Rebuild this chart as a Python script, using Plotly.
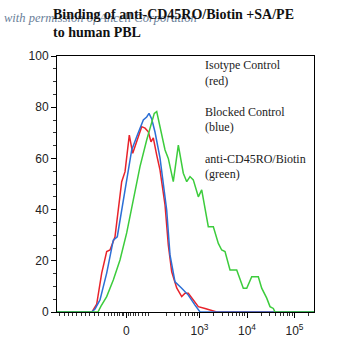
import numpy as np
import plotly.graph_objects as go

# x values in display (logicle-like decade) units: 0 -> 1.46, 10^3 -> 3, 10^4 -> 4, 10^5 -> 5
red_x = [0, 0.737, 0.836, 0.941, 1.046, 1.116, 1.221, 1.284, 1.362, 1.432, 1.522, 1.594, 1.712,
         1.783, 1.853, 1.922, 1.979, 2.027, 2.099, 2.168, 2.274, 2.343, 2.415, 2.52, 2.625, 2.695,
         2.764, 2.836, 2.975, 3.116, 3.326, 3.362, 5.41]
red_y = [0, 0, 3.1, 15.2, 23.6, 24.2, 29.4, 39.8, 50.9, 54.8, 69.1, 62.0, 68.0,
         72.4, 71.8, 70.4, 66.5, 68.0, 61.3, 55.5, 41.8, 26.2, 15.7, 9.4, 6.0, 7.3,
         7.3, 5.5, 2.1, 1.4, 0.1, 0, 0]

blue_x = [0, 0.731, 0.8, 0.905, 1.046, 1.185, 1.269, 1.362, 1.467, 1.573, 1.678, 1.747, 1.817,
          1.888, 1.937, 1.994, 2.063, 2.168, 2.309, 2.379, 2.484, 2.625, 2.764, 2.905, 3.011, 5.41]
blue_y = [0, 0, 1.2, 4.7, 15.2, 28.1, 29.4, 39.8, 51.6, 63.3, 68.5, 71.8, 75.0,
          76.2, 77.6, 75.4, 70.3, 60.2, 39.8, 22.3, 11.8, 9.3, 6.6, 2.7, 0, 0]

green_x = [0, 0.863, 0.926, 1.046, 1.185, 1.326, 1.467, 1.606, 1.747, 1.888, 1.994, 2.048, 2.099,
           2.168, 2.274, 2.343, 2.448, 2.554, 2.659, 2.731, 2.8, 2.869, 2.975, 3.046, 3.116,
           3.185, 3.291, 3.396, 3.467, 3.537, 3.642, 3.783, 3.922, 3.994, 4.099, 4.238, 4.309,
           4.415, 4.484, 4.554, 4.589, 5.41]
green_y = [0, 0, 2.3, 6.0, 12.5, 20.3, 30.9, 43.75, 56.8, 67.2, 73.8, 77.6, 78.3,
           72.7, 63.3, 60.0, 50.9, 65.2, 54.2, 50.9, 52.9, 51.6, 45.0, 47.7, 41.1,
           33.3, 33.3, 26.8, 24.2, 23.6, 16.4, 16.4, 9.3, 9.3, 13.8, 13.8, 9.3,
           5.4, 2.1, 1.4, 0, 0]

x_tickvals = [1.46, 3, 4, 5]
x_ticktext = ["0", "10<sup>3</sup>", "10<sup>4</sup>", "10<sup>5</sup>"]
y_tickvals = [0, 20, 40, 60, 80, 100]

legend_lines = ["Isotype Control", "(red)", "", "Blocked Control", "(blue)", "",
                "anti-CD45RO/Biotin", "(green)"]

# minor tick positions (styling)
minor = []
minor += list(np.arange(0.06, 0.95, 0.09))
minor += [1.0, 1.08, 1.15, 1.21, 1.27, 1.32, 1.37, 1.41, 1.51, 1.55, 1.6, 1.66, 1.72, 1.79, 1.86, 1.93]
for base in [2.0, 3.0, 4.0, 5.0]:
    for m in range(2, 10):
        v = base + np.log10(m)
        if v < 5.4:
            minor.append(v)

fig = go.Figure()
fig.add_trace(go.Scatter(x=red_x, y=red_y, mode="lines", line=dict(color="#e8232b", width=1.5)))
fig.add_trace(go.Scatter(x=blue_x, y=blue_y, mode="lines", line=dict(color="#2c6fd6", width=1.5)))
fig.add_trace(go.Scatter(x=green_x, y=green_y, mode="lines", line=dict(color="#3ccc3c", width=1.5)))

fig.update_layout(
    width=338, height=358,
    margin=dict(l=57, r=24, t=56, b=46),
    paper_bgcolor="white", plot_bgcolor="white",
    showlegend=False,
    xaxis=dict(range=[0, 5.41], tickmode="array", tickvals=x_tickvals, ticktext=x_ticktext,
               showgrid=False, zeroline=False, showline=True, linecolor="black", linewidth=1,
               mirror=True, ticks="outside", ticklen=5, tickcolor="black", ticklabelstandoff=3,
               tickfont=dict(family="Liberation Sans, Arial", size=12, color="#222"),
               minor=dict(tickvals=minor, ticks="outside", ticklen=3, tickcolor="#333")),
    yaxis=dict(range=[0, 100], tickmode="array", tickvals=y_tickvals,
               showgrid=False, zeroline=False, showline=True, linecolor="black", linewidth=1,
               mirror=True, ticks="outside", ticklen=5, tickcolor="black",
               tickfont=dict(family="Liberation Sans, Arial", size=12, color="#222"),
               minor=dict(dtick=5, ticks="outside", ticklen=3, tickcolor="#333")),
)

fig.add_annotation(xref="paper", yref="paper", x=-(57 - 2) / 257, y=1 + (56 - 9) / 256,
                   xanchor="left", yanchor="top", showarrow=False,
                   text="<i>with permission of Ancell Corporation</i>",
                   font=dict(family="Liberation Serif, Times New Roman", size=12.5, color="#6a8099"))
fig.add_annotation(xref="paper", yref="paper", x=-(57 - 51) / 257, y=1 + (56 - 5) / 256,
                   xanchor="left", yanchor="top", align="left", showarrow=False,
                   text="<b>Binding of anti-CD45RO/Biotin +SA/PE<br>to human PBL</b>",
                   font=dict(family="Liberation Serif, Times New Roman", size=14, color="#111"))
fig.add_annotation(xref="paper", yref="paper", x=(203 - 57) / 257, y=1 - (56 - 56) / 256,
                   xanchor="left", yanchor="top", align="left", showarrow=False,
                   text="<br>".join(legend_lines),
                   font=dict(family="Liberation Serif, Times New Roman", size=12, color="#222"))

fig.write_html("out.html")
